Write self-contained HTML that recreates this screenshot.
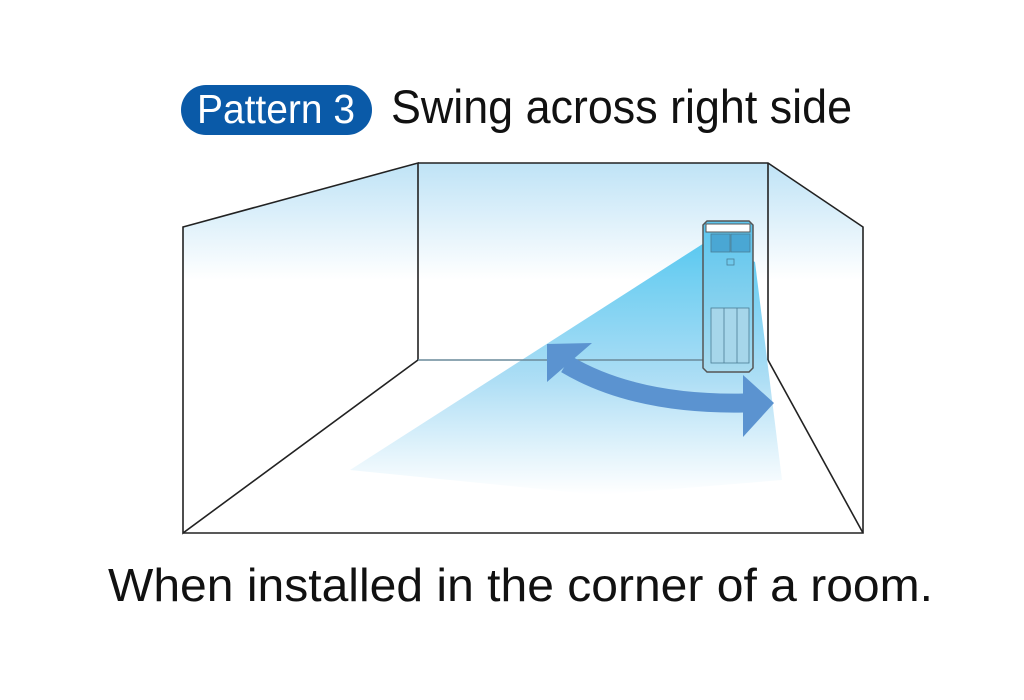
<!DOCTYPE html>
<html><head><meta charset="utf-8"><style>
html,body{margin:0;padding:0;background:#fff}
svg{display:block}
</style></head><body>
<svg width="1024" height="700" viewBox="0 0 1024 700" xmlns="http://www.w3.org/2000/svg">
<defs>
<linearGradient id="lw" x1="0" y1="163" x2="0" y2="280" gradientUnits="userSpaceOnUse">
<stop offset="0" stop-color="#bfe3f6"/><stop offset="1" stop-color="#ffffff"/>
</linearGradient>
<linearGradient id="cone" x1="0" y1="240" x2="0" y2="495" gradientUnits="userSpaceOnUse">
<stop offset="0" stop-color="#3fc0ee"/><stop offset="0.55" stop-color="#9fd8f3"/><stop offset="1" stop-color="#ffffff" stop-opacity="0.9"/>
</linearGradient>
<linearGradient id="unit" x1="0" y1="230" x2="0" y2="370" gradientUnits="userSpaceOnUse">
<stop offset="0" stop-color="#5fc6ee"/><stop offset="1" stop-color="#a8dbef"/>
</linearGradient>
</defs>
<rect width="1024" height="700" fill="#fff"/>
<polygon points="183,227 418,163 418,360 183,533" fill="url(#lw)"/>
<polygon points="418,163 768,163 768,360 418,360" fill="url(#lw)"/>
<polygon points="768,163 863,227 863,533 768,360" fill="url(#lw)"/>
<polygon points="712,238 755,262 782,480 600,495 350,470" fill="url(#cone)" opacity="0.85"/>
<g fill="none" stroke="#222" stroke-width="1.6">
<polygon points="183,227 418,163 418,360 183,533"/>
<polyline points="418,163 768,163 863,227 863,533 183,533"/>
<line x1="768" y1="163" x2="768" y2="360"/>
<line x1="768" y1="360" x2="863" y2="533"/>
<line x1="418" y1="360" x2="703" y2="360" stroke="#6a8a9a"/>
</g>
<polygon points="703,225 707,221 749,221 753,225 753,368 749,372 707,372 703,368" fill="url(#unit)" stroke="#555" stroke-width="1.5"/>
<rect x="706" y="224" width="44" height="8" fill="#fff" stroke="#555" stroke-width="1"/>
<rect x="711" y="234" width="19" height="18" fill="#4aa7d4" stroke="#4a7d95" stroke-width="0.8"/>
<rect x="731" y="234" width="19" height="18" fill="#4aa7d4" stroke="#4a7d95" stroke-width="0.8"/>
<rect x="727" y="259" width="7" height="6" fill="none" stroke="#4a7d95" stroke-width="0.8"/>
<rect x="711" y="308" width="38" height="55" fill="#a6d6ea" stroke="#4a7d95" stroke-width="0.8"/>
<line x1="724" y1="308" x2="724" y2="363" stroke="#4a7d95" stroke-width="0.8"/>
<line x1="737" y1="308" x2="737" y2="363" stroke="#4a7d95" stroke-width="0.8"/>
<path d="M566,364 Q635,405 744,403" fill="none" stroke="#5b93d0" stroke-width="19"/>
<polygon points="547,344 592,343 547,382" fill="#5b93d0"/>
<polygon points="743,375 774,403 743,437" fill="#5b93d0"/>
<rect x="181" y="85" width="191" height="50" rx="25" fill="#0a5aa8"/>
<text x="276" y="123" text-anchor="middle" font-family="Liberation Sans, sans-serif" font-size="41" fill="#fff" textLength="158" lengthAdjust="spacingAndGlyphs">Pattern 3</text>
<text x="391" y="123" font-family="Liberation Sans, sans-serif" font-size="47" fill="#111" textLength="461" lengthAdjust="spacingAndGlyphs">Swing across right side</text>
<text x="108" y="601" font-family="Liberation Sans, sans-serif" font-size="46" fill="#111" textLength="825" lengthAdjust="spacingAndGlyphs">When installed in the corner of a room.</text>
</svg>
</body></html>
